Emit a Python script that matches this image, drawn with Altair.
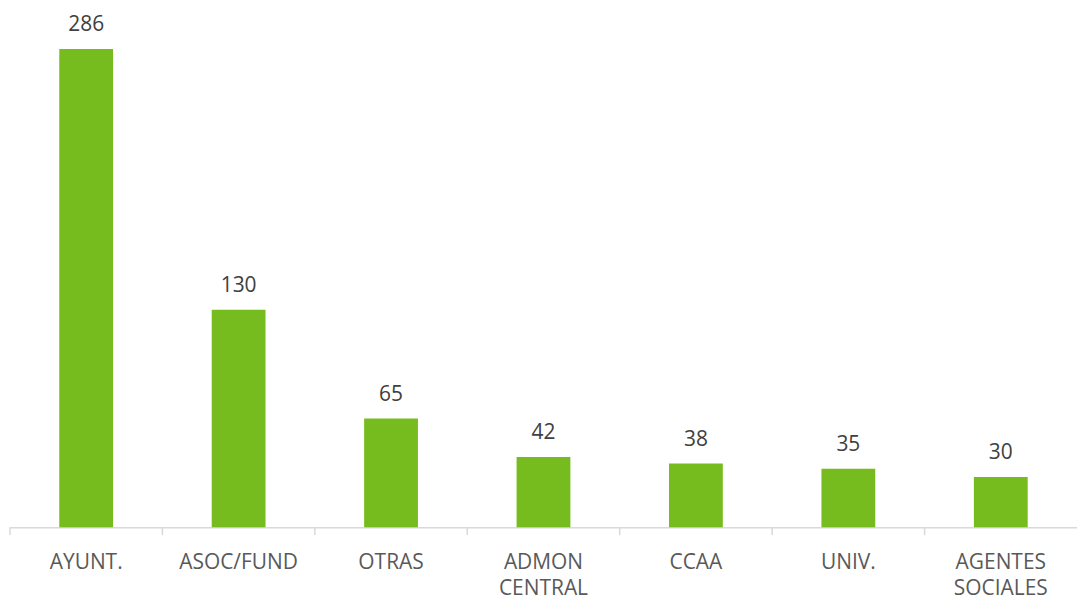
import altair as alt
import pandas as pd

categories = ["AYUNT.", "ASOC/FUND", "OTRAS", "ADMON|CENTRAL", "CCAA", "UNIV.", "AGENTES|SOCIALES"]
values = [286, 130, 65, 42, 38, 35, 30]

df = pd.DataFrame({"cat": categories, "val": values})

x = alt.X("cat:N", sort=categories, title=None,
          scale=alt.Scale(paddingInner=0.647, paddingOuter=0.3235),
          axis=alt.Axis(labelAngle=0, labelExpr="split(datum.value, '|')",
                        labelFont="Open Sans", labelFontSize=21, labelColor="#595959",
                        labelLineHeight=27, labelPadding=24, labelBaseline="top",
                        ticks=False, tickSize=0,
                        domainColor="#D9D9D9", domainWidth=1.5, grid=False))
y = alt.Y("val:Q", title=None, scale=alt.Scale(domain=[0, 314.6], nice=False, zero=True),
          axis=None)

bars = alt.Chart(df).mark_bar(color="#77BC1F").encode(x=x, y=y)
labels = alt.Chart(df).mark_text(font="Open Sans", fontSize=21, color="#404040",
                                 baseline="alphabetic", dy=-18).encode(
    x=alt.X("cat:N", sort=categories), y="val:Q", text="val:Q")

base = alt.layer(bars, labels)

ticks = alt.Chart(df).mark_rule(color="#D9D9D9", strokeWidth=1.5).encode(
    x=alt.X("cat:N", sort=categories, bandPosition=0, axis=None,
            scale=alt.Scale(paddingInner=0, paddingOuter=0)),
    y=alt.value(528), y2=alt.value(536))

chart = alt.layer(base, ticks).resolve_scale(x="independent").properties(
    width=1071, height=528,
    padding={"left": 10, "top": 0, "right": 0, "bottom": 71},
    autosize=alt.AutoSizeParams(type="none"),
).configure_view(strokeWidth=0)

chart.save("out.html", embed_options={"renderer": "svg", "actions": False})
